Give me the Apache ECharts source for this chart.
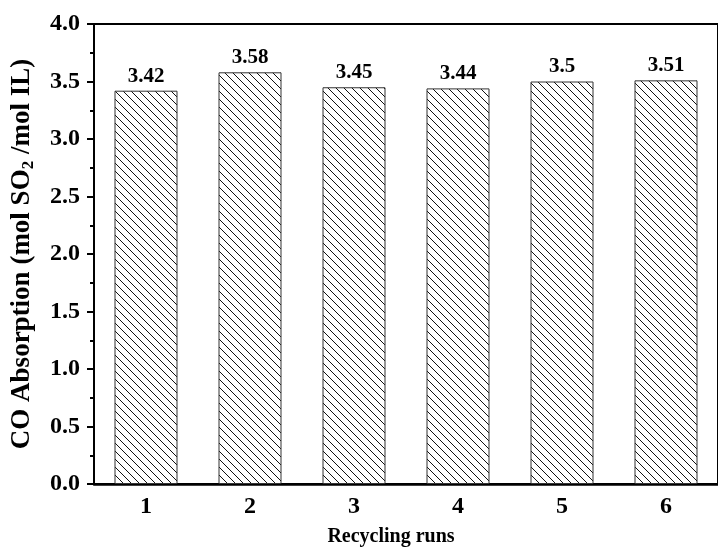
<!DOCTYPE html>
<html>
<head>
<meta charset="utf-8">
<script src="https://cdn.jsdelivr.net/npm/echarts@6/dist/echarts.min.js"></script>
<style>
  html, body { margin: 0; padding: 0; background: #fff; }
  #chart { width: 718px; height: 552px; }
</style>
</head>
<body>
<div id="chart"></div>
<script>
// Recycling runs and the absorption capacity measured in each run
const runs = ['1', '2', '3', '4', '5', '6'];
const absorption = [3.42, 3.58, 3.45, 3.44, 3.5, 3.51];
const yTicks = { min: 0, max: 4, interval: 0.5 };

const FONT = '"Liberation Serif", "Times New Roman", serif';

// Back-slash hatch tile used as the bar fill
function hatchPattern(size) {
  const c = document.createElement('canvas');
  c.width = size; c.height = size;
  const g = c.getContext('2d');
  g.fillStyle = '#fff';
  g.fillRect(0, 0, size, size);
  g.strokeStyle = '#111';
  g.lineWidth = 1;
  g.beginPath();
  g.moveTo(-1, -1); g.lineTo(size + 1, size + 1);
  g.moveTo(-1, size - 1); g.lineTo(1, size + 1);
  g.moveTo(size - 1, -1); g.lineTo(size + 1, 1);
  g.stroke();
  return c;
}

const chart = echarts.init(document.getElementById('chart'), null, { renderer: 'canvas' });

chart.setOption({
  animation: false,
  backgroundColor: '#fff',
  grid: {
    left: 94, top: 24, right: -8, bottom: 64,
    show: true, borderColor: '#000', borderWidth: 2, backgroundColor: 'transparent'
  },
  xAxis: {
    type: 'category',
    data: runs,
    name: 'Recycling runs',
    nameLocation: 'middle',
    nameGap: 43,
    nameTextStyle: {
      fontFamily: FONT, fontWeight: 'bold', fontSize: 20, color: '#000',
      padding: [0, 30, 0, 0]
    },
    axisLine: { lineStyle: { color: '#000', width: 2.5 } },
    axisTick: { alignWithLabel: true, length: 6, lineStyle: { color: '#000', width: 2 } },
    axisLabel: { margin: 11, fontFamily: FONT, fontWeight: 'bold', fontSize: 24, color: '#000' },
    splitLine: { show: false }
  },
  yAxis: {
    type: 'value',
    min: yTicks.min, max: yTicks.max, interval: yTicks.interval,
    name: 'CO Absorption (mol SO{sub|2} /mol IL)',
    nameLocation: 'middle',
    nameGap: 57,
    nameTextStyle: {
      fontFamily: FONT, fontWeight: 'bold', fontSize: 27, color: '#000',
      rich: {
        sub: { fontFamily: FONT, fontWeight: 'bold', fontSize: 17, color: '#000', verticalAlign: 'bottom', padding: [12, 0, 0, 0] }
      }
    },
    axisLine: { show: true, lineStyle: { color: '#000', width: 2 } },
    axisTick: { show: true, inside: false, length: 7, lineStyle: { color: '#000', width: 2 } },
    minorTick: { show: true, splitNumber: 2, length: 4, lineStyle: { color: '#000', width: 2 } },
    axisLabel: {
      margin: 14, fontFamily: FONT, fontWeight: 'bold', fontSize: 24, color: '#000',
      formatter: v => v.toFixed(1)
    },
    splitLine: { show: false }
  },
  series: [{
    type: 'bar',
    data: absorption,
    barWidth: 63,
    itemStyle: {
      color: { image: hatchPattern(8), repeat: 'repeat' },
      borderColor: '#333',
      borderWidth: 1
    },
    label: {
      show: true,
      position: 'top',
      distance: 4,
      fontFamily: FONT, fontWeight: 'bold', fontSize: 21, color: '#000'
    }
  }]
});
</script>
</body>
</html>
